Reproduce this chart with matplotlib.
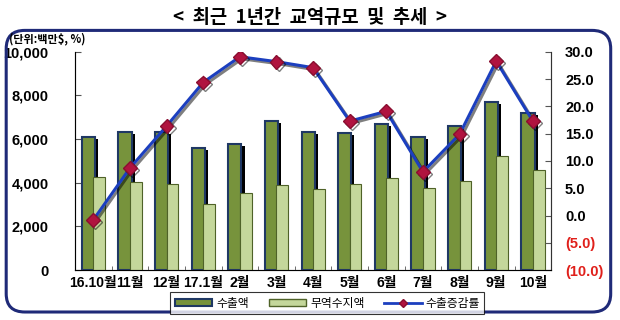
import matplotlib
matplotlib.use("Agg")
import matplotlib.pyplot as plt
import matplotlib.patheffects as pe
from matplotlib.patches import FancyBboxPatch, Patch
from matplotlib.lines import Line2D
import numpy as np

plt.rcParams['font.family'] = ['Noto Sans CJK KR', 'DejaVu Sans']
num_font = ['Liberation Sans', 'Noto Sans CJK KR']

months = ['16.10월', '11월', '12월', '17.1월', '2월', '3월', '4월',
          '5월', '6월', '7월', '8월', '9월', '10월']
export = [6110, 6330, 6310, 5610, 5780, 6820, 6310, 6270, 6700, 6090, 6590, 7710, 7200]
balance = [4280, 4020, 3930, 3040, 3520, 3880, 3730, 3930, 4200, 3740, 4100, 5210, 4570]
growth = [-0.8, 8.7, 16.4, 24.4, 29.1, 28.2, 27.1, 17.3, 19.1, 8.0, 14.9, 28.3, 17.3]

left_ticks = [0, 2000, 4000, 6000, 8000, 10000]
right_ticks = [-10, -5, 0, 5, 10, 15, 20, 25, 30]

fig = plt.figure(figsize=(6.2, 3.2), dpi=100)
ax = fig.add_axes([0.121, 0.156, 0.768, 0.682])

x = np.arange(len(months))
# shadow behind export bars
ax.bar(x - 0.055, [v - 90 for v in export], width=0.37, color='black', zorder=1)
ax.bar(x - 0.135, export, width=0.36, color='#77933C', edgecolor='#1F3864',
       linewidth=1.5, zorder=2)
ax.bar(x + 0.16, balance, width=0.32, color='#C4D79B', edgecolor='#4F6228',
       linewidth=0.8, zorder=3)

ax.set_xlim(-0.5, len(months) - 0.5)
ax.set_ylim(0, 10000)
ax.set_yticks(left_ticks)
ax.set_yticklabels(['{:,}'.format(t) for t in left_ticks], fontsize=10.5,
                   fontweight='bold', family=num_font)
ax.set_xticks(x)
ax.set_xticklabels(months, fontsize=10, fontweight='bold', family=num_font)
ax.set_xticks(np.arange(-0.5, len(months)), minor=True)
ax.tick_params(axis='x', which='major', length=0, pad=4)
ax.tick_params(axis='x', which='minor', length=3, direction='in', color='#555555')
ax.tick_params(axis='y', direction='in', length=4, color='#555555', pad=19)
ax.spines['top'].set_visible(False)
for s in ['left', 'bottom', 'right']:
    ax.spines[s].set_color('#777777')

ax2 = ax.twinx()
ax2.set_ylim(-10, 30)
ax2.plot(x, growth, color='#1C3FBF', linewidth=2.2, marker='D', markersize=7,
         markerfacecolor='#B0133F', markeredgecolor='#8A0E30', zorder=5,
         path_effects=[pe.SimpleLineShadow(offset=(1.5, -1.5), alpha=0.5), pe.Normal()])
ax2.set_yticks(right_ticks)
rlabels = []
for t in right_ticks:
    rlabels.append('({:.1f})'.format(-t) if t < 0 else '{:.1f}'.format(t))
ax2.set_yticklabels(rlabels, fontsize=10.5, fontweight='bold', family=num_font)
for lbl, t in zip(ax2.get_yticklabels(), right_ticks):
    if t < 0:
        lbl.set_color('#E0201B')
ax2.tick_params(axis='y', direction='in', length=4, color='#555555', pad=10)
ax2.spines['top'].set_visible(False)
ax2.spines['right'].set_color('#333333')

fig.text(0.5, 0.945, '<  최근  1년간  교역규모  및  추세  >', ha='center', va='center',
         fontsize=13.5, fontweight='bold')
fig.text(0.015, 0.88, '(단위:백만$, %)', ha='left', va='center', fontsize=8, fontweight='bold')

box = FancyBboxPatch((0.01, 0.025), 0.975, 0.88, boxstyle='round,pad=0,rounding_size=0.03',
                     transform=fig.transFigure, facecolor='none', edgecolor='#1F2A78',
                     linewidth=2.2, mutation_aspect=1.9)
fig.patches.append(box)

handles = [Patch(facecolor='#77933C', edgecolor='#1F3864', linewidth=1.5),
           Patch(facecolor='#C4D79B', edgecolor='#4F6228'),
           Line2D([], [], color='#1C3FBF', linewidth=2, marker='D', markersize=4,
                  markerfacecolor='#B0133F', markeredgecolor='#8A0E30')]
leg = fig.legend(handles, ['수출액', '무역수지액', '수출증감률'], loc='center',
                 bbox_to_anchor=(0.528, 0.053), ncol=3, fontsize=8.5, frameon=True,
                 fancybox=False, edgecolor='black', handlelength=3.2, handleheight=0.5,
                 columnspacing=1.7, handletextpad=0.3, borderpad=0.35)
leg.get_frame().set_linewidth(0.8)

fig.savefig('out.png', dpi=100)
